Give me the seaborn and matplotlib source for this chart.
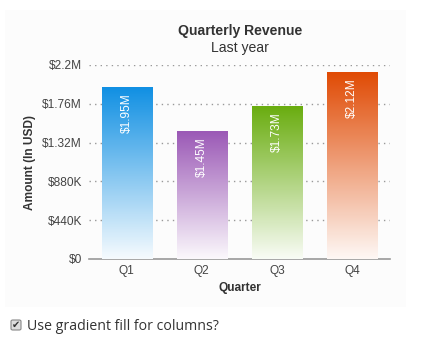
import numpy as np
import pandas as pd
import matplotlib
matplotlib.use("Agg")
import matplotlib.pyplot as plt
from matplotlib.patches import Rectangle, FancyBboxPatch
from matplotlib.colors import LinearSegmentedColormap
import seaborn as sns

quarters = ["Q1", "Q2", "Q3", "Q4"]
revenue = [1.95, 1.45, 1.73, 2.12]  # millions USD
labels = ["$1.95M", "$1.45M", "$1.73M", "$2.12M"]
colors = ["#1190e3", "#9b59b6", "#6aad10", "#e04b05"]
ytick_vals = [0, 0.44, 0.88, 1.32, 1.76, 2.2]
ytick_labels = ["$0", "$440K", "$880K", "$1.32M", "$1.76M", "$2.2M"]

sns.set_theme(style="white")
plt.rcParams['font.family'] = ['Liberation Sans', 'DejaVu Sans']

W, H = 434, 349
fig = plt.figure(figsize=(W / 100, H / 100), dpi=100)
fig.patch.set_facecolor("white")

# chart panel background
fig.patches.append(Rectangle((5 / W, 1 - 307 / H), 401 / W, 297 / H,
                             transform=fig.transFigure, facecolor="#fcfcfc",
                             edgecolor="none", zorder=-10))

ax = fig.add_axes([89 / W, 1 - 259 / H, 301 / W, 194 / H])
ax.set_zorder(1)
ax.set_facecolor("none")

df = pd.DataFrame({"Quarter": quarters, "Revenue": revenue})
sns.barplot(data=df, x="Quarter", y="Revenue", ax=ax, width=0.665,
            color="white", saturation=1, zorder=3)

ax.set_ylim(0, 2.2)
ax.set_xlim(-0.5, 3.5)

for patch, c, lab in zip(ax.patches, colors, labels):
    x0 = patch.get_x()
    w = patch.get_width()
    h = patch.get_height()
    patch.set_facecolor("none")
    patch.set_edgecolor("none")
    cmap = LinearSegmentedColormap.from_list("g", ["#ffffff", c])
    grad = np.linspace(0.04, 1, 256).reshape(-1, 1)
    im = ax.imshow(grad, extent=[x0, x0 + w, 0, h], origin="lower",
                   cmap=cmap, vmin=0, vmax=1, aspect="auto", zorder=3,
                   interpolation="bilinear")
    im.set_clip_path(patch)
    ax.text(x0 + w / 2, h - 0.065, lab, rotation=90, ha="center", va="top",
            color="white", fontsize=8.6, zorder=5)

ax.set_aspect("auto")
ax.set_xlim(-0.5, 3.5)
ax.set_ylim(0, 2.2)

ax.set_yticks(ytick_vals)
ax.set_yticklabels(ytick_labels)
for y in ytick_vals[1:]:
    ax.axhline(y, color="#999999", linestyle=(0, (1, 3)), linewidth=1, zorder=1)

for s in ["top", "right", "left"]:
    ax.spines[s].set_visible(False)
ax.spines["bottom"].set_color("#999999")
ax.spines["bottom"].set_linewidth(1.2)
ax.tick_params(axis="both", length=0, labelsize=8.6, colors="#444444")
ax.tick_params(axis="y", pad=5)
ax.tick_params(axis="x", pad=4)

ax.set_xlabel("Quarter", fontsize=8.6, fontweight="bold", color="#333333", labelpad=4)
ax.set_ylabel("Amount (In USD)", fontsize=8.6, fontweight="bold", color="#333333")
ax.yaxis.set_label_coords(-53 / 301, 0.5)

fig.text(240 / W, 1 - 31 / H, "Quarterly Revenue", ha="center", va="center",
         fontsize=10.1, fontweight="bold", color="#333333")
fig.text(240 / W, 1 - 48 / H, "Last year", ha="center", va="center",
         fontsize=10.1, color="#333333")

# checkbox
fig.patches.append(FancyBboxPatch((11 / W, 1 - 330 / H), 10 / W, 10 / H,
                                  boxstyle="round,pad=0,rounding_size=0.004",
                                  transform=fig.transFigure, facecolor="#dddddd",
                                  edgecolor="#888888", linewidth=0.8))
fig.text(16 / W, 1 - 325 / H, "\u2714", ha="center", va="center", fontsize=7,
         color="#333333", family=["DejaVu Sans"])
fig.text(27 / W, 1 - 326 / H, "Use gradient fill for columns?", ha="left",
         va="center", fontsize=10.2, color="#333333", family=["Open Sans", "DejaVu Sans"])

fig.savefig("out.png", dpi=100)
